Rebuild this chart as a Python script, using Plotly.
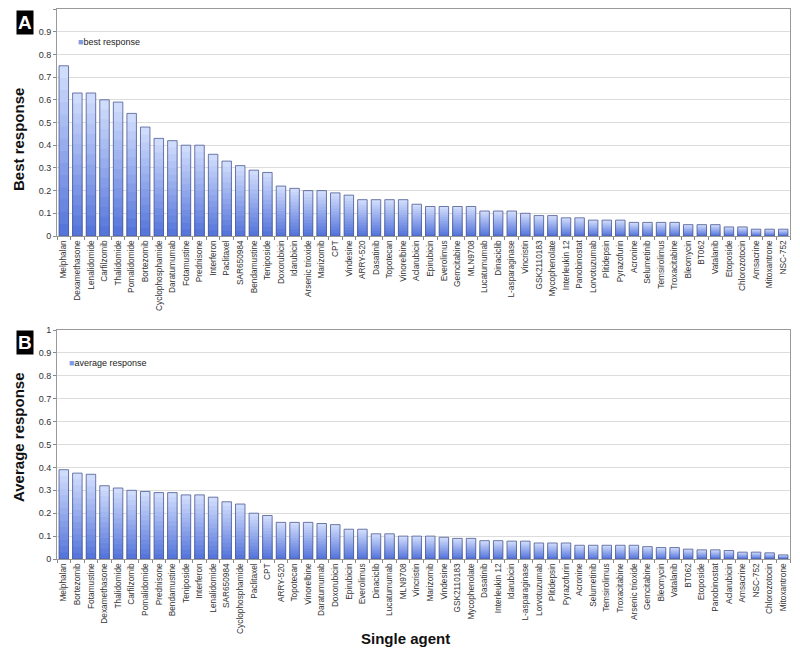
import plotly.graph_objects as go

# ---------------- data ----------------
best_agents = ["Melphalan", "Dexamethasone", "Lenalidomide", "Carfilzomib", "Thalidomide",
               "Pomalidomide", "Bortezomib", "Cyclophosphamide", "Daratumumab", "Fotamustine",
               "Prednisone", "Interferon", "Paclitaxel", "SAR650984", "Bendamustine",
               "Teniposide", "Doxorubicin", "Idarubicin", "Arsenic trioxide", "Marizomib",
               "CPT", "Vindesine", "ARRY-520", "Dasatinib", "Topotecan", "Vinorelbine",
               "Aclarubicin", "Epirubicin", "Everolimus", "Gemcitabine", "MLN9708",
               "Lucatumumab", "Dinaciclib", "L-asparaginase", "Vincristin", "GSK2110183",
               "Mycophenolate", "Interleukin 12", "Panobinostat", "Lorvotuzumab",
               "Plitidepsin", "Pyrazofurin", "Acronine", "Selumetinib", "Temsirolimus",
               "Troxacitabine", "Bleomycin", "BT062", "Vatalanib", "Etoposide",
               "Chlorozotocin", "Amsacrine", "Mitoxantrone", "NSC-752"]
best_values = [0.75, 0.63, 0.63, 0.60, 0.59, 0.54, 0.48, 0.43, 0.42, 0.40,
               0.40, 0.36, 0.33, 0.31, 0.29, 0.28, 0.22, 0.21, 0.20, 0.20,
               0.19, 0.18, 0.16, 0.16, 0.16, 0.16, 0.14, 0.13, 0.13, 0.13,
               0.13, 0.11, 0.11, 0.11, 0.10, 0.09, 0.09, 0.08, 0.08, 0.07,
               0.07, 0.07, 0.06, 0.06, 0.06, 0.06, 0.05, 0.05, 0.05, 0.04,
               0.04, 0.03, 0.03, 0.03]

avg_agents = ["Melphalan", "Bortezomib", "Fotamustine", "Dexamethasone", "Thalidomide",
              "Carfilzomib", "Pomalidomide", "Prednisone", "Bendamustine", "Teniposide",
              "Interferon", "Lenalidomide", "SAR650984", "Cyclophosphamide", "Paclitaxel",
              "CPT", "ARRY-520", "Topotecan", "Vinorelbine", "Daratumumab", "Doxorubicin",
              "Epirubicin", "Everolimus", "Dinaciclib", "Lucatumumab", "MLN9708",
              "Vincristin", "Marizomib", "Vindesine", "GSK2110183", "Mycophenolate",
              "Dasatinib", "Interleukin 12", "Idarubicin", "L-asparaginase", "Lorvotuzumab",
              "Plitidepsin", "Pyrazofurin", "Acronine", "Selumetinib", "Temsirolimus",
              "Troxacitabine", "Arsenic trioxide", "Gemcitabine", "Bleomycin", "Vatalanib",
              "BT062", "Etoposide", "Panobinostat", "Aclarubicin", "Amsacrine", "NSC-752",
              "Chlorozotocin", "Mitoxantrone"]
avg_values = [0.39, 0.375, 0.37, 0.32, 0.31, 0.30, 0.295, 0.29, 0.29, 0.28,
              0.28, 0.27, 0.25, 0.24, 0.20, 0.19, 0.16, 0.16, 0.16, 0.155,
              0.15, 0.13, 0.13, 0.11, 0.11, 0.10, 0.10, 0.10, 0.095, 0.09,
              0.09, 0.08, 0.08, 0.078, 0.078, 0.07, 0.07, 0.07, 0.06, 0.06,
              0.06, 0.06, 0.06, 0.054, 0.05, 0.05, 0.043, 0.04, 0.04, 0.037,
              0.03, 0.03, 0.027, 0.018]

y_ticks = [0, 0.1, 0.2, 0.3, 0.4, 0.5, 0.6, 0.7, 0.8, 0.9, 1]

# ---------------- style ----------------
FONT = "Liberation Sans, Arial, sans-serif"
TOP_RGB = (208, 220, 252)
BOT_RGB = (86, 118, 220)
OUTLINE = "#4b5b92"
N_STEPS = 14
SWATCH = "#7f9be8"

# the page body has an 8 px margin, so the figure is sized to fit the window
BODY = 8
FIG_W, FIG_H = 800 - BODY, 660 - BODY
# target plot area in window pixels: x 57..790, top panel 9..236, bottom panel 330..559
PL, PR, PT, PB = 57, 790, 9, 559
W_PLOT = PR - PL
H_PLOT = PB - PT

fig = go.Figure()


def lerp(c1, c2, t):
    return "rgb(%d,%d,%d)" % tuple(round(a + (b - a) * t) for a, b in zip(c1, c2))


def px_x(px):
    return (px - PL) / W_PLOT


def px_y(py):
    return 1 - (py - PT) / H_PLOT


def add_bars(cats, vals, xa, ya, name, legend):
    # stepped vertical gradient: light at top, dark at bottom
    for k in range(N_STEPS):
        frac = (N_STEPS - k) / N_STEPS
        fig.add_trace(go.Bar(
            x=cats, y=[v * frac for v in vals], xaxis=xa, yaxis=ya,
            marker=dict(color=lerp(TOP_RGB, BOT_RGB, k / (N_STEPS - 1)), line=dict(width=0)),
            showlegend=False, hoverinfo="skip"))
    # outline
    fig.add_trace(go.Bar(
        x=cats, y=vals, xaxis=xa, yaxis=ya, name=name,
        marker=dict(color="rgba(0,0,0,0)", line=dict(color=OUTLINE, width=0.8)),
        showlegend=False))
    # legend entry: small square swatch directly before the text
    fig.add_trace(go.Scatter(
        x=[cats[0]], y=[None], xaxis=xa, yaxis=ya, mode="markers",
        name='<span style="color:%s">■</span>%s' % (SWATCH, name), legend=legend,
        marker=dict(color="rgba(0,0,0,0)", size=1), showlegend=True))


add_bars(best_agents, best_values, "x", "y", "best response", "legend")
add_bars(avg_agents, avg_values, "x2", "y2", "average response", "legend2")

axis_x = dict(type="category", tickangle=-90, tickfont=dict(family=FONT, size=8.3, color="#333"),
              showline=True, linecolor="#9a9a9a", linewidth=1, mirror=True,
              ticks="outside", ticklen=3, tickcolor="#888", tickson="boundaries",
              showgrid=False, range=[-0.5, len(best_agents) - 0.5], automargin=False)
axis_y = dict(range=[0, 1], tickvals=y_ticks, ticktext=[("%g" % t) for t in y_ticks],
              tickfont=dict(family=FONT, size=9, color="#333"),
              showline=True, linecolor="#9a9a9a", linewidth=1, mirror=True,
              ticks="outside", ticklen=3, tickcolor="#888", automargin=False,
              showgrid=True, gridcolor="#dcdcdc", gridwidth=1, zeroline=False)

top_dom = [px_y(236), 1.0]
bot_dom = [0.0, px_y(330)]

legend_style = dict(xanchor="left", yanchor="top", xref="container", yref="container",
                    bgcolor="rgba(0,0,0,0)", font=dict(family=FONT, size=9, color="#222"),
                    itemwidth=30, tracegroupgap=0, borderwidth=0)

fig.update_layout(
    width=FIG_W, height=FIG_H,
    margin=dict(l=PL - BODY, r=FIG_W - (PR - BODY), t=PT - BODY, b=FIG_H - (PB - BODY),
                autoexpand=False),
    paper_bgcolor="white", plot_bgcolor="white",
    barmode="overlay", bargap=0.3,
    font=dict(family=FONT, color="#222"),
    xaxis=dict(axis_x, anchor="y", domain=[0, 1]),
    yaxis=dict(axis_y, anchor="x", domain=top_dom),
    xaxis2=dict(axis_x, anchor="y2", domain=[0, 1]),
    yaxis2=dict(axis_y, anchor="x2", domain=bot_dom),
    legend=dict(legend_style, x=30 / FIG_W, y=1 - 19 / FIG_H),
    legend2=dict(legend_style, x=21 / FIG_W, y=1 - 340 / FIG_H),
)

ann_title = dict(family=FONT, size=15, color="#111")
fig.add_annotation(text="<b>Best response</b>", xref="paper", yref="paper",
                   x=px_x(18), y=px_y(140), textangle=-90,
                   showarrow=False, font=ann_title, xanchor="center", yanchor="middle")
fig.add_annotation(text="<b>Average response</b>", xref="paper", yref="paper",
                   x=px_x(18), y=px_y(437), textangle=-90,
                   showarrow=False, font=ann_title, xanchor="center", yanchor="middle")
fig.add_annotation(text="<b>Single agent</b>", xref="paper", yref="paper",
                   x=px_x(405), y=px_y(638),
                   showarrow=False, font=ann_title, xanchor="center", yanchor="middle")

panel_font = dict(family=FONT, size=19, color="white")
for letter, ypix in (("A", 22), ("B", 342)):
    fig.add_annotation(text="<b>%s</b>" % letter, xref="paper", yref="paper",
                       x=px_x(25), y=px_y(ypix),
                       showarrow=False, font=panel_font, bgcolor="black",
                       borderpad=1, xanchor="center", yanchor="middle")

fig.write_html("out.html")
